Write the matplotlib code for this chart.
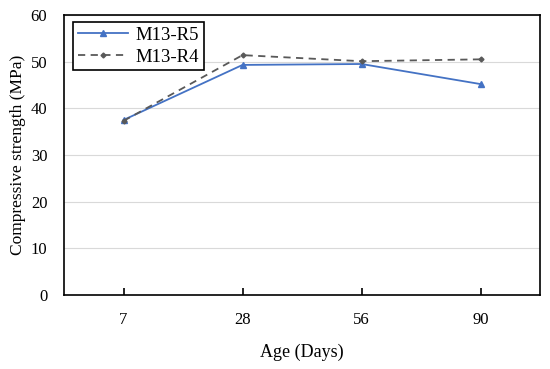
import numpy as np
import matplotlib.pyplot as plt

plt.rcParams['font.family'] = ['Liberation Serif', 'DejaVu Serif']

ages = ['7', '28', '56', '90']
r5 = [37.5, 49.3, 49.5, 45.2]
r4 = [37.3, 51.4, 50.1, 50.5]

x = np.arange(len(ages))

fig = plt.figure(figsize=(5.5, 3.69), dpi=100)
ax = fig.add_axes([64/550, 1 - 295/369, 476/550, 280/369])

ax.plot(x, r5, color='#4472C4', lw=1.3, marker='^', ms=4, label='M13-R5')
ax.plot(x, r4, color='#595959', lw=1.3, ls=(0, (4, 3)), marker='D', ms=2.5, label='M13-R4')

ax.set_xlim(-0.5, 3.5)
ax.set_ylim(0, 60)
ax.set_yticks(range(0, 61, 10))
ax.set_xticks(x)
ax.set_xticklabels(ages)
ax.grid(axis='y', color='#d9d9d9', lw=0.8)
ax.set_axisbelow(True)

for s in ax.spines.values():
    s.set_color('black')
    s.set_linewidth(1.2)

ax.tick_params(axis='y', length=0, labelsize=12, pad=12)
ax.tick_params(axis='x', direction='in', length=5, width=1.2, labelsize=12, pad=12)

ax.set_xlabel('Age (Days)', fontsize=13, va='center')
ax.xaxis.set_label_coords(0.5, -57/280)
ax.set_ylabel('Compressive strength (MPa)', fontsize=12.5, va='center')
ax.yaxis.set_label_coords(-46/476, 0.5)

leg = ax.legend(loc='upper left', bbox_to_anchor=(0.019, 0.975), borderaxespad=0,
                fontsize=13.5, fancybox=False, edgecolor='black', framealpha=1,
                handlelength=2.7, handletextpad=0.4, borderpad=0.25, labelspacing=0.25)
leg.get_frame().set_linewidth(1.2)

fig.savefig('out.png', dpi=100)
